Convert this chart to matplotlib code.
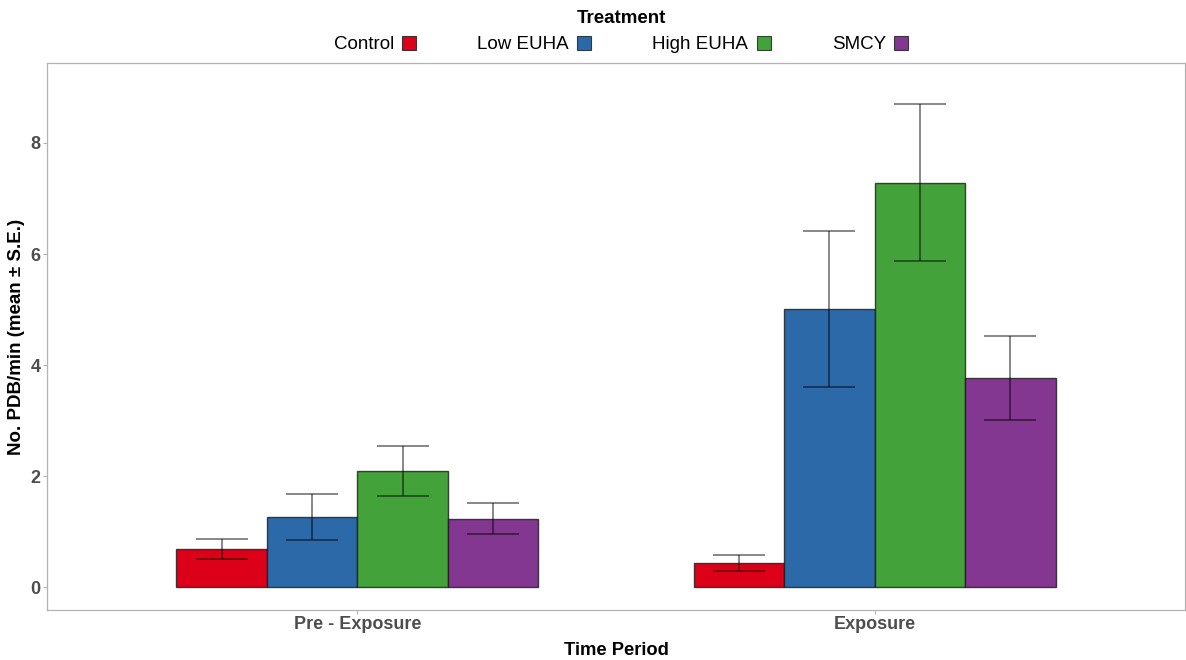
import matplotlib.pyplot as plt
import numpy as np
from matplotlib.patches import Patch

plt.rcParams['font.family'] = ['Liberation Sans', 'DejaVu Sans']

periods = ["Pre - Exposure", "Exposure"]
treatments = ["Control", "Low EUHA", "High EUHA", "SMCY"]
colors = ["#DC0019", "#2C69A8", "#43A23A", "#843790"]

# mean and S.E. bounds, rows = treatment, cols = period
means = np.array([[0.68, 0.43],
                  [1.26, 5.01],
                  [2.09, 7.28],
                  [1.23, 3.77]])
upper = np.array([[0.86, 0.58],
                  [1.67, 6.41],
                  [2.54, 8.70],
                  [1.51, 4.52]])
lower = np.array([[0.50, 0.30],
                  [0.85, 3.60],
                  [1.65, 5.87],
                  [0.95, 3.01]])

fig = plt.figure(figsize=(11.86, 6.6), dpi=100)
ax = fig.add_axes([47/1186, 1 - 610/660, (1185 - 47)/1186, (610 - 63)/660])

x = np.arange(1, len(periods) + 1)
w = 0.7 / len(treatments)
for i, t in enumerate(treatments):
    xs = x - 0.35 + w/2 + i*w
    ax.bar(xs, means[i], width=w, color=colors[i], edgecolor=(0.1, 0.1, 0.1, 0.8),
           linewidth=1.0, label=t, zorder=2)
    ax.errorbar(xs, means[i], yerr=[means[i] - lower[i], upper[i] - means[i]],
                fmt='none', ecolor=(0, 0, 0, 0.55), elinewidth=1.2, capsize=19,
                capthick=1.2, zorder=3)

ax.set_xlim(0.4, 2.6)
ax.set_ylim(-0.41, 9.44)
ax.set_xticks(x)
ax.set_xticklabels(periods)
ax.set_yticks([0, 2, 4, 6, 8])
ax.tick_params(axis='both', colors='#B3B3B3', length=3, width=0.8, pad=1.5,
               labelcolor='#4D4D4D', labelsize=13)
for lab in ax.get_xticklabels() + ax.get_yticklabels():
    lab.set_fontweight('bold')
for s in ax.spines.values():
    s.set_color('#B3B3B3')
    s.set_linewidth(0.9)

ax.set_xlabel("Time Period", fontsize=13.2, fontweight='bold', labelpad=6)
ax.set_ylabel("No. PDB/min (mean ± S.E.)", fontsize=13.5, fontweight='bold', labelpad=4)

handles = [Patch(facecolor=c, edgecolor=(0.1, 0.1, 0.1, 0.8), linewidth=0.8) for c in colors]
leg = fig.legend(handles, treatments, loc='upper center', bbox_to_anchor=(0.5236, 1.011),
                 ncol=4, frameon=False, markerfirst=False, handlelength=0.75,
                 handleheight=0.75, handletextpad=0.45, columnspacing=3.25,
                 fontsize=13.5, title="Treatment",
                 title_fontproperties={'weight': 'bold', 'size': 13.5})

fig.savefig("out.png", dpi=100)
